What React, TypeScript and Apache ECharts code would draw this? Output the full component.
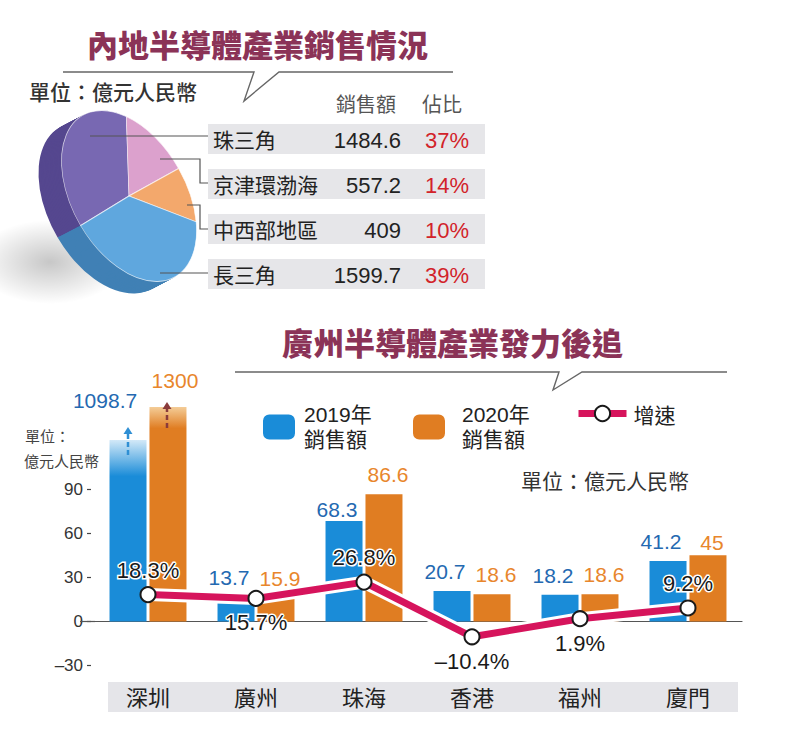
import React, { useEffect, useRef } from 'react';
import * as echarts from 'echarts';

// ---------- data: top pie / table ----------
const pieNames = ['珠三角', '京津環渤海', '中西部地區', '長三角'];
const pieValues = [1484.6, 557.2, 409, 1599.7];
const piePercents = [37, 14, 10, 39];

// ---------- data: bottom bar + line chart ----------
const cities = ['深圳', '廣州', '珠海', '香港', '福州', '廈門'];
const sales2019 = [1098.7, 13.7, 68.3, 20.7, 18.2, 41.2];
const sales2020 = [1300, 15.9, 86.6, 18.6, 18.6, 45];
const growth = [18.3, 15.7, 26.8, -10.4, 1.9, 9.2];
const yTickValues = [-30, 0, 30, 60, 90];

// axis range; bars above it are drawn "broken" at these heights
const Y_MIN = -30;
const Y_MAX = 150;
const brokenDrawn2019 = 123.5;
const brokenDrawn2020 = 146;

// small vertical nudges of value labels (label placement only)
const label2019Nudge = [0, -4, 8, 0, 0, 0];
const label2020Nudge = [0, 0, 0, 0, 0, 7];
const growthBelow = [false, true, false, true, true, false];

const NUM = "'Liberation Sans', Arial, 'Noto Sans CJK TC', sans-serif";
const CJK = "'Noto Sans CJK TC', 'Noto Sans CJK SC', sans-serif";

const BLUE = '#1a8cd8';
const ORANGE = '#e07d22';
const BLUE_TXT = '#2469b1';
const ORANGE_TXT = '#e8862c';
const CRIMSON = '#d6145c';
const TITLE = '#8b3357';

const pieTopColors = ['#7868b2', '#dca1cd', '#f3a86c', '#5fa7de'];
const pieSideColors = ['#55478f', '#b67fab', '#cf8a52', '#4080b5'];

// pie geometry (tilted disc)
const PIE_CX = 129;
const PIE_CY = 196;
const PIE_R = 93;
const PIE_SX = 0.61;
const PIE_ROT = 0.52;
const PIE_DX = -23;
const PIE_DY = 12;
const PIE_LAYERS = 18;
const PIE_START_DEG = 179;

const pieTotal = pieValues.reduce((a, b) => a + b, 0);
function sliceStart(i: number) {
  let acc = 0;
  for (let j = 0; j < i; j++) acc += pieValues[j];
  return ((PIE_START_DEG + (acc / pieTotal) * 360) * Math.PI) / 180;
}

export default function App() {
  const ref = useRef<HTMLDivElement>(null);
  useEffect(() => {
    if (!ref.current) return;
    const chart = echarts.init(ref.current, undefined, { renderer: 'svg' });

    const sz2019Grad = new echarts.graphic.LinearGradient(0, 0, 0, 1, [
      { offset: 0, color: '#d3e9f8' },
      { offset: 0.2, color: BLUE },
      { offset: 1, color: BLUE },
    ]);
    const sz2020Grad = new echarts.graphic.LinearGradient(0, 0, 0, 1, [
      { offset: 0, color: '#f4cd98' },
      { offset: 0.1, color: ORANGE },
      { offset: 1, color: ORANGE },
    ]);

    const bar2019 = sales2019.map((v, i) =>
      v > Y_MAX
        ? { value: brokenDrawn2019, itemStyle: { color: sz2019Grad }, label: { offset: [-23, -20] } }
        : { value: v, label: { offset: [-7, label2019Nudge[i]] } }
    );
    const bar2020 = sales2020.map((v, i) =>
      v > Y_MAX
        ? { value: brokenDrawn2020, itemStyle: { color: sz2020Grad }, label: { offset: [7, -7] } }
        : { value: v, label: { offset: [4, label2020Nudge[i]] } }
    );

    const growthData = growth.map((v, i) => ({
      value: v,
      label: { position: growthBelow[i] ? 'bottom' : 'top' },
    }));

    const graphics: any[] = [];
    const txt = (text: string, x: number, y: number, o: any = {}) => ({
      type: 'text',
      x,
      y,
      z: o.z ?? 5,
      style: {
        text,
        fill: o.fill ?? '#222',
        fontSize: o.fontSize ?? 21,
        fontFamily: o.fontFamily ?? CJK,
        fontWeight: o.fontWeight ?? 'normal',
        textAlign: o.align ?? 'left',
        textVerticalAlign: 'middle',
      },
    });

    // titles
    graphics.push(txt('內地半導體產業銷售情況', 87, 43, { fontSize: 31, fontWeight: 900, fill: TITLE }));
    graphics.push(txt('廣州半導體產業發力後追', 282, 341, { fontSize: 31, fontWeight: 900, fill: TITLE }));
    // callout lines
    graphics.push({
      type: 'polyline',
      z: 5,
      shape: { points: [[63, 72], [254, 72], [244, 101], [279, 72], [453, 72]] },
      style: { stroke: '#666', lineWidth: 1.4, fill: null },
    });
    graphics.push({
      type: 'polyline',
      z: 5,
      shape: { points: [[235, 372], [559, 372], [553, 390], [582, 372], [727, 372]] },
      style: { stroke: '#666', lineWidth: 1.4, fill: null },
    });
    // units
    graphics.push(txt('單位：億元人民幣', 29, 91, { fontSize: 21, fill: '#333', fontWeight: 500 }));
    graphics.push(txt('單位：億元人民幣', 521, 480, { fontSize: 21, fill: '#333' }));
    graphics.push(txt('單位：', 25, 435, { fontSize: 15, fill: '#444' }));
    graphics.push(txt('億元人民幣', 24, 460, { fontSize: 15, fill: '#444' }));

    // table
    graphics.push(txt('銷售額', 366, 103, { fontSize: 20, fill: '#555', align: 'center' }));
    graphics.push(txt('佔比', 442, 103, { fontSize: 20, fill: '#555', align: 'center' }));
    pieNames.forEach((name, i) => {
      const y = 124 + 45 * i;
      graphics.push({ type: 'rect', z: 1, shape: { x: 208, y, width: 277, height: 30 }, style: { fill: '#e6e6e9' } });
      graphics.push(txt(name, 213, y + 15, { fontSize: 21 }));
      graphics.push(txt(String(pieValues[i]), 401, y + 16, { fontSize: 22, fontFamily: NUM, align: 'right' }));
      graphics.push(txt(piePercents[i] + '%', 469, y + 16, { fontSize: 22, fontFamily: NUM, align: 'right', fill: '#d2232a' }));
    });
    // leader lines
    const leaders = [
      [[90, 136], [208, 136]],
      [[160, 159], [200, 159], [200, 183], [208, 183]],
      [[187, 205], [200, 205], [200, 229], [208, 229]],
      [[160, 273], [208, 273]],
    ];
    leaders.forEach((pts) =>
      graphics.push({ type: 'polyline', z: 10, shape: { points: pts }, style: { stroke: '#555', lineWidth: 1.2, fill: null } })
    );
    // pie shadow
    graphics.push({
      type: 'ellipse',
      z: -2,
      shape: { cx: 50, cy: 262, rx: 75, ry: 42 },
      style: {
        fill: new echarts.graphic.RadialGradient(0.5, 0.5, 0.5, [
          { offset: 0, color: 'rgba(0,0,0,0.22)' },
          { offset: 1, color: 'rgba(0,0,0,0)' },
        ]),
      },
    });
    // category label band
    graphics.push({ type: 'rect', z: -1, shape: { x: 108, y: 682, width: 630, height: 30 }, style: { fill: '#e5e5e9' } });
    // zero line stub to the left of the plot
    graphics.push({ type: 'line', z: 1, shape: { x1: 80, y1: 621.5, x2: 95, y2: 621.5 }, style: { stroke: '#555', lineWidth: 1.2 } });
    // broken-bar arrows (深圳)
    const arrow = (x: number, y1: number, y2: number, color: string) => {
      graphics.push({
        type: 'line',
        z: 6,
        shape: { x1: x, y1, x2: x, y2: y2 + 6 },
        style: { stroke: color, lineWidth: 2.5, lineDash: [5, 3] },
      });
      graphics.push({
        type: 'polygon',
        z: 6,
        shape: { points: [[x - 4.5, y2 + 7], [x + 4.5, y2 + 7], [x, y2]] },
        style: { fill: color },
      });
    };
    arrow(128, 455, 427, '#2f8fd4');
    arrow(167, 428, 402, '#8a3b3b');

    const option: any = {
      animation: false,
      backgroundColor: '#fff',
      textStyle: { fontFamily: NUM },
      grid: { left: 94, right: 58, top: 401, bottom: 71.4, containLabel: false, outerBoundsMode: 'none' },
      legend: [
        {
          data: ['2019年銷售額'],
          left: 263,
          top: 402,
          padding: 0,
          itemWidth: 32,
          itemHeight: 25,
          selectedMode: false,
          formatter: (n: string) => n.replace('年', '年\n'),
          textStyle: { fontSize: 21, lineHeight: 25, color: '#222', fontFamily: NUM, padding: [0, 0, 0, 4] },
        },
        {
          data: ['2020年銷售額'],
          left: 413,
          top: 402,
          padding: 0,
          itemWidth: 32,
          itemHeight: 25,
          selectedMode: false,
          formatter: (n: string) => n.replace('年', '年\n'),
          textStyle: { fontSize: 21, lineHeight: 25, color: '#222', fontFamily: NUM, padding: [0, 0, 0, 12] },
        },
        {
          data: ['增速'],
          left: 575,
          top: 403,
          padding: 0,
          itemWidth: 48,
          itemHeight: 19,
          selectedMode: false,
          lineStyle: { width: 7, color: CRIMSON },
          itemStyle: { color: '#fff', borderColor: '#1a1a1a', borderWidth: 2 },
          textStyle: { fontSize: 21, color: '#222', fontFamily: CJK, padding: [0, 0, 0, 2] },
        },
      ],
      xAxis: [
        {
          type: 'category',
          data: cities,
          axisLine: { show: true, onZero: true, lineStyle: { color: '#555', width: 1.2 } },
          axisTick: { show: false },
          axisLabel: { show: false },
        },
        {
          type: 'category',
          data: cities,
          position: 'bottom',
          axisLine: { show: false },
          axisTick: { show: false },
          axisLabel: { margin: 19, fontSize: 22, color: '#222', fontFamily: CJK },
        },
      ],
      yAxis: {
        type: 'value',
        min: Y_MIN,
        max: Y_MAX,
        interval: 30,
        offset: 3,
        axisLine: { show: false },
        splitLine: { show: false },
        axisTick: { show: true, length: 4, customValues: yTickValues, lineStyle: { color: '#444', width: 1.2 } },
        axisLabel: {
          customValues: yTickValues,
          margin: 8,
          fontSize: 17,
          color: '#333',
          fontFamily: NUM,
          formatter: (v: number) => (v < 0 ? '–' + Math.abs(v) : String(v)),
        },
      },
      series: [
        {
          name: 'pieSide',
          type: 'custom',
          coordinateSystem: 'none',
          silent: true,
          z: 1,
          data: pieValues,
          renderItem: (params: any, api: any) => {
            const i = params.dataIndex;
            const s = sliceStart(i);
            const e = s + (api.value(0) / pieTotal) * Math.PI * 2;
            const children: any[] = [];
            for (let k = PIE_LAYERS; k >= 1; k--) {
              const t = k / PIE_LAYERS;
              children.push({
                type: 'sector',
                x: PIE_CX + PIE_DX * t,
                y: PIE_CY + PIE_DY * t,
                rotation: PIE_ROT,
                scaleX: PIE_SX,
                z2: -k,
                shape: { cx: 0, cy: 0, r: PIE_R, startAngle: s, endAngle: e, clockwise: true },
                style: { fill: pieSideColors[i] },
              });
            }
            return { type: 'group', children };
          },
        },
        {
          name: 'pieTop',
          type: 'custom',
          coordinateSystem: 'none',
          silent: true,
          z: 2,
          data: pieValues,
          renderItem: (params: any, api: any) => {
            const i = params.dataIndex;
            const s = sliceStart(i);
            const e = s + (api.value(0) / pieTotal) * Math.PI * 2;
            return {
              type: 'sector',
              x: PIE_CX,
              y: PIE_CY,
              rotation: PIE_ROT,
              scaleX: PIE_SX,
              shape: { cx: 0, cy: 0, r: PIE_R, startAngle: s, endAngle: e, clockwise: true },
              style: { fill: pieTopColors[i], stroke: 'rgba(255,255,255,0.7)', lineWidth: 1 },
            };
          },
        },
        {
          name: '2019年銷售額',
          type: 'bar',
          xAxisIndex: 0,
          barWidth: 37,
          barGap: '8%',
          itemStyle: { color: BLUE },
          data: bar2019,
          z: 3,
          label: {
            show: true,
            position: 'top',
            distance: 9,
            color: BLUE_TXT,
            fontSize: 21,
            fontFamily: NUM,
            formatter: (p: any) => String(sales2019[p.dataIndex]),
          },
        },
        {
          name: '2020年銷售額',
          type: 'bar',
          xAxisIndex: 0,
          barWidth: 37,
          barGap: '8%',
          itemStyle: { color: ORANGE },
          data: bar2020,
          z: 3,
          label: {
            show: true,
            position: 'top',
            distance: 9,
            color: ORANGE_TXT,
            fontSize: 21,
            fontFamily: NUM,
            formatter: (p: any) => String(sales2020[p.dataIndex]),
          },
        },
        {
          name: 'halo',
          type: 'line',
          xAxisIndex: 0,
          data: growth,
          symbol: 'none',
          silent: true,
          z: 4,
          lineStyle: { color: '#fff', width: 13, join: 'round' },
        },
        {
          name: '增速',
          type: 'line',
          xAxisIndex: 0,
          data: growthData,
          symbol: 'circle',
          symbolSize: 15,
          z: 5,
          itemStyle: { color: '#fff', borderColor: '#1a1a1a', borderWidth: 2 },
          lineStyle: { color: CRIMSON, width: 7, join: 'round' },
          label: {
            show: true,
            distance: 5,
            fontSize: 22,
            color: '#1a1a1a',
            fontFamily: NUM,
            textBorderColor: '#fff',
            textBorderWidth: 3,
            formatter: (p: any) => {
              const v = growth[p.dataIndex];
              return (v < 0 ? '–' + Math.abs(v) : String(v)) + '%';
            },
          },
        },
      ],
      graphic: graphics,
    };
    chart.setOption(option);
    return () => chart.dispose();
  }, []);
  return <div ref={ref} style={{ position: 'absolute', left: 0, top: 0, width: 800, height: 737 }} />;
}
